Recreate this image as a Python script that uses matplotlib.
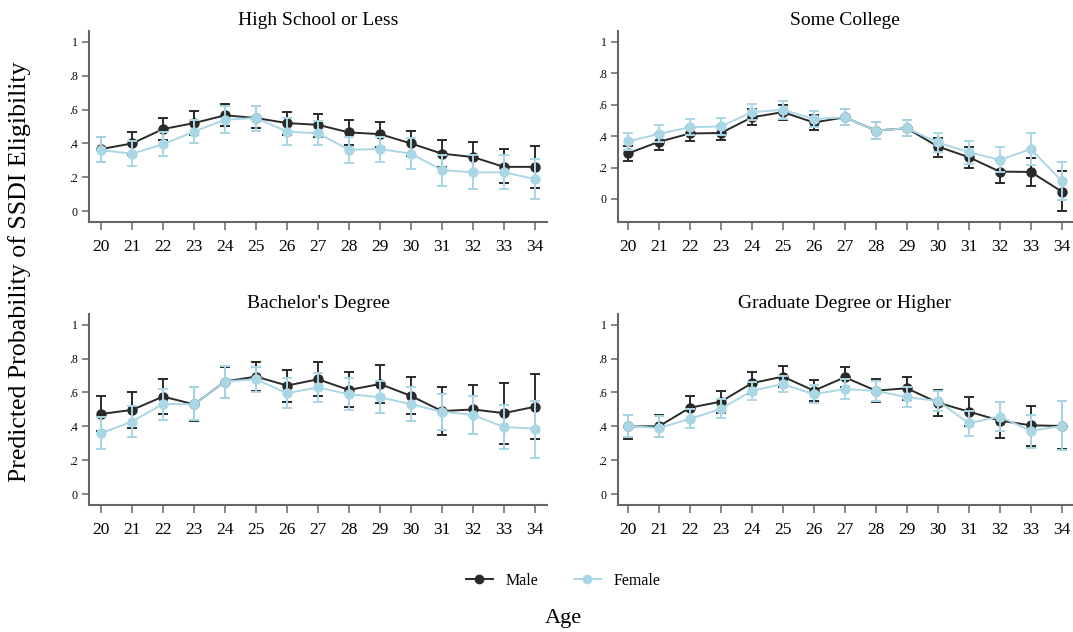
import numpy as np
import matplotlib.pyplot as plt
from matplotlib.lines import Line2D

plt.rcParams['font.family'] = ['Liberation Serif', 'DejaVu Serif']

ages = list(range(20, 35))

# High School or Less
hs_male = [.367, .40, .485, .52, .566, .55, .52, .51, .465, .455, .40, .34, .32, .262, .262]
hs_male_lo = [.29, .33, .42, .45, .50, .49, .45, .44, .39, .38, .325, .26, .23, .165, .138]
hs_male_hi = [.44, .467, .55, .59, .635, .62, .588, .576, .538, .527, .475, .422, .41, .367, .385]
hs_female = [.36, .34, .395, .47, .54, .55, .47, .46, .363, .367, .34, .243, .23, .23, .19]
hs_female_lo = [.29, .265, .325, .40, .46, .475, .39, .39, .285, .29, .25, .15, .13, .13, .073]
hs_female_hi = [.44, .415, .465, .54, .62, .62, .55, .53, .44, .44, .43, .33, .33, .33, .31]

# Some College
sc_male = [.29, .364, .417, .42, .52, .553, .487, .52, .436, .45, .334, .266, .174, .172, .047]
sc_male_lo = [.24, .313, .372, .374, .47, .504, .44, .47, .385, .40, .27, .196, .10, .085, -.08]
sc_male_hi = [.34, .415, .46, .465, .57, .60, .535, .57, .49, .50, .39, .334, .25, .26, .175]
sc_female = [.366, .415, .457, .462, .553, .568, .509, .52, .436, .45, .36, .298, .249, .317, .115]
sc_female_lo = [.31, .36, .405, .41, .50, .51, .46, .47, .385, .40, .30, .225, .17, .215, -.005]
sc_female_hi = [.423, .472, .508, .513, .606, .626, .56, .572, .49, .505, .42, .37, .328, .417, .236]

# Bachelor's Degree
ba_male = [.473, .497, .576, .53, .665, .694, .641, .678, .615, .65, .58, .49, .50, .478, .516]
ba_male_lo = [.37, .39, .473, .434, .57, .61, .546, .58, .513, .54, .47, .35, .353, .296, .325]
ba_male_hi = [.58, .605, .678, .63, .753, .78, .734, .78, .72, .763, .694, .63, .645, .657, .71]
ba_female = [.36, .428, .533, .53, .665, .678, .596, .63, .59, .572, .53, .487, .467, .396, .386]
ba_female_lo = [.264, .335, .44, .435, .57, .605, .507, .546, .497, .477, .432, .38, .355, .266, .215]
ba_female_hi = [.455, .52, .62, .63, .755, .75, .685, .715, .685, .667, .63, .59, .58, .527, .55]

# Graduate Degree or Higher
gr_male = [.40, .40, .51, .546, .655, .694, .611, .69, .611, .625, .54, .487, .434, .406, .402]
gr_male_lo = [.325, .335, .44, .48, .59, .635, .55, .63, .544, .555, .46, .40, .33, .286, .264]
gr_male_hi = [.467, .467, .58, .611, .72, .755, .673, .75, .678, .694, .615, .576, .546, .52, .55]
gr_female = [.402, .39, .444, .503, .61, .65, .59, .62, .61, .572, .55, .418, .458, .373, .402]
gr_female_lo = [.335, .335, .39, .45, .556, .60, .536, .562, .55, .513, .49, .343, .37, .27, .26]
gr_female_hi = [.467, .46, .50, .56, .665, .70, .645, .68, .67, .63, .61, .49, .546, .467, .55]

titles = ['High School or Less', 'Some College', "Bachelor's Degree", 'Graduate Degree or Higher']
yticks = [0, .2, .4, .6, .8, 1]
ytick_labels = ['0', '.2', '.4', '.6', '.8', '1']

panels = [
    (hs_male, hs_male_lo, hs_male_hi, hs_female, hs_female_lo, hs_female_hi),
    (sc_male, sc_male_lo, sc_male_hi, sc_female, sc_female_lo, sc_female_hi),
    (ba_male, ba_male_lo, ba_male_hi, ba_female, ba_female_lo, ba_female_hi),
    (gr_male, gr_male_lo, gr_male_hi, gr_female, gr_female_lo, gr_female_hi),
]

male_col = '#2a2a2a'
female_col = '#a9d7e5'
axis_col = '#666666'

fig = plt.figure(figsize=(10.73, 6.32), dpi=100)
W, H = 1073, 632
# axes boxes in pixels: left, top, right, bottom
boxes = [(89, 31, 547, 222), (618, 31, 1072, 222), (89, 314, 547, 505), (618, 314, 1072, 505)]
ylims = [(-0.063, 1.063), (-0.147, 1.07), (-0.065, 1.064), (-0.065, 1.064)]
xlims = [(19.61, 34.39), (19.68, 34.33), (19.61, 34.39), (19.68, 34.33)]

for i, (box, data) in enumerate(zip(boxes, panels)):
    l, t, r, b = box
    ax = fig.add_axes([l / W, 1 - b / H, (r - l) / W, (b - t) / H])
    m, mlo, mhi, f, flo, fhi = [np.array(a) for a in data]
    ax.errorbar(ages, m, yerr=[m - mlo, mhi - m], color=male_col, ecolor=male_col,
                marker='o', markersize=6.5, lw=1.4, elinewidth=1.4, capsize=3.3, capthick=1.4,
                zorder=3)
    ax.errorbar(ages, f, yerr=[f - flo, fhi - f], color=female_col, ecolor=female_col,
                marker='o', markersize=6.5, lw=1.4, elinewidth=1.4, capsize=3.3, capthick=1.4,
                zorder=4)
    ax.set_xlim(*xlims[i])
    ax.set_ylim(*ylims[i])
    ax.set_xticks(ages)
    ax.set_xticklabels([str(a) for a in ages], fontsize=12.5)
    ax.set_yticks(yticks)
    ax.set_yticklabels(ytick_labels, fontsize=8.5)
    ax.set_title(titles[i], fontsize=14, pad=4)
    for s in ['top', 'right']:
        ax.spines[s].set_visible(False)
    for s in ['left', 'bottom']:
        ax.spines[s].set_color(axis_col)
        ax.spines[s].set_linewidth(1.5)
    ax.tick_params(axis='x', length=6, width=1.1, color=axis_col, pad=6)
    ax.tick_params(axis='y', length=5, width=1.1, color=axis_col, pad=3)

fig.text(20 / W, 1 - 272 / H, 'Predicted Probability of SSDI Eligibility', rotation=90,
         ha='center', va='center', fontsize=18.6)
fig.text(563 / W, 1 - 618 / H, 'Age', ha='center', va='center', fontsize=16)

handles = [Line2D([], [], color=male_col, marker='o', markersize=6, lw=1.4),
           Line2D([], [], color=female_col, marker='o', markersize=6, lw=1.4)]
fig.legend(handles, ['Male', 'Female'], loc='center', bbox_to_anchor=(563 / W, 1 - 581 / H),
           ncol=2, frameon=False, fontsize=11.5, handlelength=1.7, handletextpad=0.8,
           columnspacing=2.2)

fig.savefig('out.png', dpi=100)
